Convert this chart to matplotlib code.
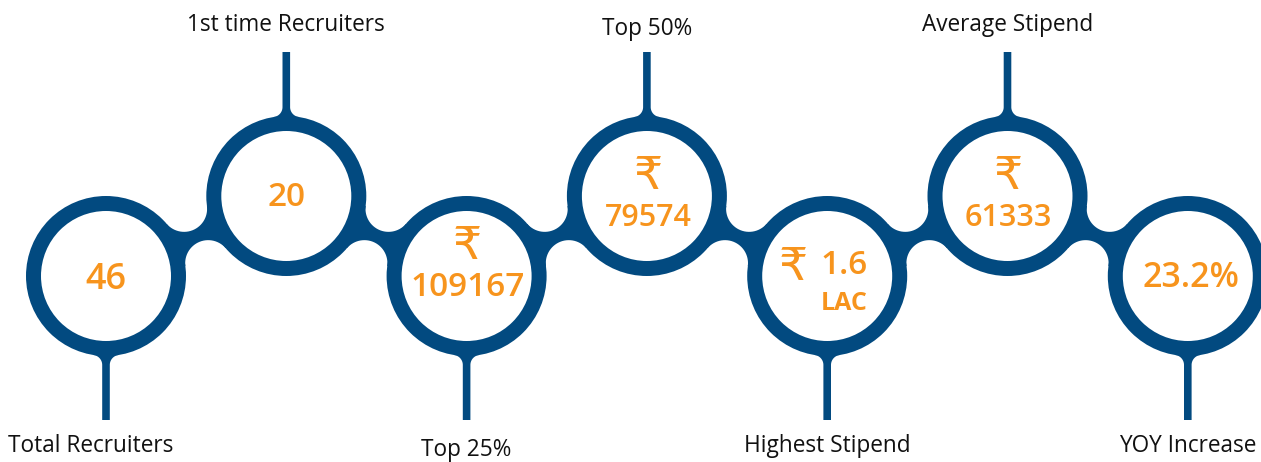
import numpy as np
import matplotlib.pyplot as plt
from matplotlib.patches import Circle, Polygon

# data
values = ['46', '20', '109167', '79574', '1.6', '61333', '23.2%']
units = ['', '', '', '', 'LAC', '', '']
rupee = [False, False, True, True, True, True, False]
labels = ['Total Recruiters', '1st time Recruiters', 'Top 25%', 'Top 50%',
          'Highest Stipend', 'Average Stipend', 'YOY Increase']

blue = '#024a80'
orange = '#f7941d'
R, r_in = 80, 65

plt.rcParams['font.family'] = ['Open Sans', 'DejaVu Sans']

fig = plt.figure(figsize=(12.61, 4.62), dpi=100)
ax = fig.add_axes([0, 0, 1, 1])
ax.set_xlim(0, 1261)
ax.set_ylim(462, 0)
ax.axis('off')

n = len(values)
cx = [106 + 180.3 * i for i in range(n)]
cy = [276 if i % 2 == 0 else 196 for i in range(n)]


def arc(F, rf, p1, p2, k=30):
    a1 = np.arctan2(p1[1] - F[1], p1[0] - F[0])
    a2 = np.arctan2(p2[1] - F[1], p2[0] - F[0])
    d = (a2 - a1 + np.pi) % (2 * np.pi) - np.pi
    t = a1 + np.linspace(0, 1, k) * d
    return np.column_stack([F[0] + rf * np.cos(t), F[1] + rf * np.sin(t)])


def neck(c1, c2, rf=23):
    c1, c2 = np.array(c1, float), np.array(c2, float)
    d = np.linalg.norm(c2 - c1)
    u = (c2 - c1) / d
    nv = np.array([-u[1], u[0]])
    M = (c1 + c2) / 2
    h = np.sqrt((R + rf) ** 2 - (d / 2) ** 2)
    sides = []
    for s in (1, -1):
        F = M + s * h * nv
        T1 = c1 + R * (F - c1) / np.linalg.norm(F - c1)
        T2 = c2 + R * (F - c2) / np.linalg.norm(F - c2)
        sides.append(arc(F, rf, T1, T2))
    pts = [c1] + list(sides[0]) + [c2] + list(sides[1][::-1])
    return np.array(pts)


def stem(c, yend, s=3.8, rf=10):
    c = np.array(c, float)
    dirn = 1 if yend > c[1] else -1
    v = np.sqrt((R + rf) ** 2 - (s + rf) ** 2)
    pts = []
    for side in (-1, 1):
        F = np.array([c[0] + side * (s + rf), c[1] + dirn * v])
        Ts = np.array([c[0] + side * s, F[1]])
        Tc = c + R * (F - c) / np.linalg.norm(F - c)
        a = arc(F, rf, Ts, Tc)
        if side == -1:
            pts += [[c[0] - s, yend]] + list(a) + [c]
        else:
            pts += list(a[::-1]) + [[c[0] + s, yend]]
    return np.array(pts)


for i in range(n):
    ax.add_patch(Circle((cx[i], cy[i]), R, color=blue, lw=0, zorder=1))
    yend = 420 if i % 2 == 0 else 52
    ax.add_patch(Polygon(stem((cx[i], cy[i]), yend), closed=True,
                         color=blue, lw=0, zorder=1))
    if i < n - 1:
        ax.add_patch(Polygon(neck((cx[i], cy[i]), (cx[i + 1], cy[i + 1])),
                             closed=True, color=blue, lw=0, zorder=1))
for i in range(n):
    ax.add_patch(Circle((cx[i], cy[i]), r_in, color='white', lw=0, zorder=2))

# values inside rings
vkw = dict(color=orange, fontweight='semibold', ha='center', va='center', zorder=3)
rkw = dict(color=orange, fontweight='normal', ha='center', va='center', zorder=3)
for i in range(n):
    x, y = cx[i], cy[i]
    if units[i]:
        ax.text(x - 34, y - 8, '\u20b9', fontsize=33, **rkw)
        ax.text(x + 17, y - 11, values[i], fontsize=24, **vkw)
        ax.text(x + 17, y + 27, units[i], fontsize=18,
                **{**vkw, 'fontweight': 'bold'})
    elif rupee[i]:
        low = i % 2 == 0
        ax.text(x + 1, y + (-29 if low else -19), '\u20b9', fontsize=33, **rkw)
        ax.text(x + 1, y + (12 if low else 22), values[i],
                fontsize=24 if len(values[i]) > 5 else 22, **vkw)
    else:
        fs = {0: 26, 1: 24}.get(i, 24.5)
        dy = {0: 4, 1: 1}.get(i, 2)
        ax.text(x + (3 if i == n - 1 else 0), y + dy, values[i], fontsize=fs, **vkw)

# labels at stem ends
for i in range(n):
    x = cx[i] if i > 0 else 91
    off = 4 if labels[i].startswith('Top') else 0
    if i % 2 == 0:
        ax.text(x, 452 + off, labels[i], fontsize=16.3, color='#111111',
                ha='center', va='baseline')
    else:
        ax.text(x, 31 + off, labels[i], fontsize=16.3, color='#111111',
                ha='center', va='baseline')

fig.savefig('out.png', dpi=100)
